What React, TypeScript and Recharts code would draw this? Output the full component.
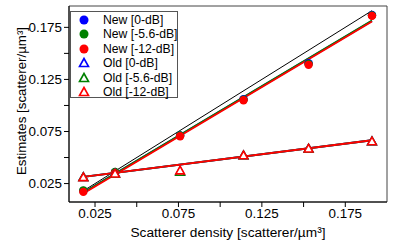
import React from 'react';
import { ScatterChart, Scatter, XAxis, YAxis, ReferenceArea } from 'recharts';

const densities = [0.018, 0.037, 0.076, 0.114, 0.153, 0.191];

const newBlue = [0.018, 0.036, 0.0712, 0.106, 0.1405, 0.1868];
const newGreen = [0.0185, 0.0362, 0.0712, 0.1055, 0.1398, 0.1865];
const newRed = [0.017, 0.035, 0.0705, 0.105, 0.139, 0.186];

const oldBlue = [0.0312, 0.0348, 0.0368, 0.052, 0.0585, 0.0655];
const oldGreen = [0.0312, 0.0346, 0.0362, 0.052, 0.0585, 0.0655];
const oldRed = [0.031, 0.0345, 0.0375, 0.052, 0.0585, 0.0655];

// fitted lines, read at first and last density
const fitX = [0.018, 0.191];
const fitNewBlue = [0.0163, 0.1812];
const fitNewGreen = [0.0165, 0.1815];
const fitNewRed = [0.0154, 0.1807];
const fitOld = [0.0314, 0.0666];
const identity = [0.018, 0.191];

const ticks = [0.025, 0.05, 0.075, 0.1, 0.125, 0.15, 0.175];
const xDomain = [0.0094, 0.2];
const yDomain = [0.0073, 0.1955];

const legendItems = [
  { name: 'New [0-dB]', color: '#0000ff', kind: 'circle' },
  { name: 'New [-5.6-dB]', color: '#008000', kind: 'circle' },
  { name: 'New [-12-dB]', color: '#ff0000', kind: 'circle' },
  { name: 'Old [0-dB]', color: '#0000ff', kind: 'tri' },
  { name: 'Old [-5.6-dB]', color: '#008000', kind: 'tri' },
  { name: 'Old [-12-dB]', color: '#ff0000', kind: 'tri' },
];

const FONT = '"Liberation Sans", Arial, sans-serif';

const pts = (xs: number[], ys: number[]) => xs.map((x, i) => ({ x, y: ys[i] }));

const circle = (color: string) => (p: any) => <circle cx={p.cx} cy={p.cy} r={4.2} fill={color} />;
const tri = (color: string) => (p: any) => (
  <path
    d={`M${p.cx},${p.cy - 4.3}L${p.cx + 4.3},${p.cy + 3.3}L${p.cx - 4.3},${p.cy + 3.3}Z`}
    fill="#fff"
    stroke={color}
    strokeWidth={1.6}
  />
);
const none = () => <g />;

const fmt = (v: number) => (Math.round(v * 1000) % 50 === 25 ? v.toFixed(3) : '');

export default function App() {
  return (
    <div style={{ position: 'absolute', left: 0, top: 0, width: 415, height: 243, fontFamily: FONT }}>
      <ScatterChart width={415} height={243} margin={{ top: 6, right: 28, bottom: 0, left: 0 }}>
        <XAxis
          dataKey="x"
          type="number"
          domain={xDomain}
          ticks={ticks}
          tickFormatter={fmt}
          allowDataOverflow
          height={41}
          tickSize={5}
          tickMargin={1}
          stroke="#000"
          tick={{ fill: '#000', fontSize: 13.4, fontFamily: FONT }}
          label={{ value: 'Scatterer density [scatterer/µm³]', position: 'insideBottom', offset: 6, fill: '#000', fontSize: 13.7, fontFamily: FONT }}
        />
        <YAxis
          dataKey="y"
          type="number"
          domain={yDomain}
          ticks={ticks}
          tickFormatter={fmt}
          allowDataOverflow
          width={69}
          tickSize={5}
          tickMargin={2}
          stroke="#000"
          tick={{ fill: '#000', fontSize: 13.4, fontFamily: FONT }}
          label={{
            content: (p: any) => {
              const vb = p.viewBox;
              const cy = vb.y + vb.height / 2 - 3;
              return (
                <text x={21} y={cy} transform={`rotate(-90, 21, ${cy})`} textAnchor="middle" dominantBaseline="central" fontSize={13.3} fontFamily={FONT} fill="#000">
                  Estimates [scatterer/µm³]
                </text>
              );
            },
          }}
        />
        <ReferenceArea x1={xDomain[0]} x2={xDomain[1]} y1={yDomain[0]} y2={yDomain[1]} fill="none" stroke="#444" strokeWidth={1} />
        <Scatter data={pts(fitX, identity)} line={{ stroke: '#000', strokeWidth: 1 }} shape={none} isAnimationActive={false} />
        <Scatter data={pts(fitX, fitNewBlue)} line={{ stroke: '#0000ff', strokeWidth: 1.8 }} shape={none} isAnimationActive={false} />
        <Scatter data={pts(fitX, fitNewGreen)} line={{ stroke: '#008000', strokeWidth: 1.8 }} shape={none} isAnimationActive={false} />
        <Scatter data={pts(fitX, fitNewRed)} line={{ stroke: '#ff0000', strokeWidth: 1.8 }} shape={none} isAnimationActive={false} />
        <Scatter data={pts(fitX, fitOld)} line={{ stroke: '#0000ff', strokeWidth: 1.8 }} shape={none} isAnimationActive={false} />
        <Scatter data={pts(fitX, fitOld)} line={{ stroke: '#008000', strokeWidth: 1.8 }} shape={none} isAnimationActive={false} />
        <Scatter data={pts(fitX, fitOld)} line={{ stroke: '#ff0000', strokeWidth: 1.8 }} shape={none} isAnimationActive={false} />
        <Scatter data={pts(densities, newBlue)} shape={circle('#0000ff')} isAnimationActive={false} />
        <Scatter data={pts(densities, newGreen)} shape={circle('#008000')} isAnimationActive={false} />
        <Scatter data={pts(densities, newRed)} shape={circle('#ff0000')} isAnimationActive={false} />
        <Scatter data={pts(densities, oldBlue)} shape={tri('#0000ff')} isAnimationActive={false} />
        <Scatter data={pts(densities, oldGreen)} shape={tri('#008000')} isAnimationActive={false} />
        <Scatter data={pts(densities, oldRed)} shape={tri('#ff0000')} isAnimationActive={false} />
      </ScatterChart>
      <div
        style={{
          position: 'absolute',
          left: 70,
          top: 11,
          width: 108,
          height: 87,
          border: '1px solid #555',
          background: '#fff',
          boxSizing: 'border-box',
        }}
      >
        {legendItems.map((it, i) => (
          <div key={it.name} style={{ position: 'absolute', left: 0, top: 1 + i * 14.4, height: 14, display: 'flex', alignItems: 'center' }}>
            <svg width={26} height={14} style={{ display: 'block' }}>
              {it.kind === 'circle' ? (
                <circle cx={13} cy={7} r={4.5} fill={it.color} />
              ) : (
                <path d="M13,2.5L17.5,10.5L8.5,10.5Z" fill="#fff" stroke={it.color} strokeWidth={1.6} />
              )}
            </svg>
            <span style={{ marginLeft: 6, fontSize: 12.2, lineHeight: '14px', color: '#000', whiteSpace: 'nowrap' }}>{it.name}</span>
          </div>
        ))}
      </div>
    </div>
  );
}
